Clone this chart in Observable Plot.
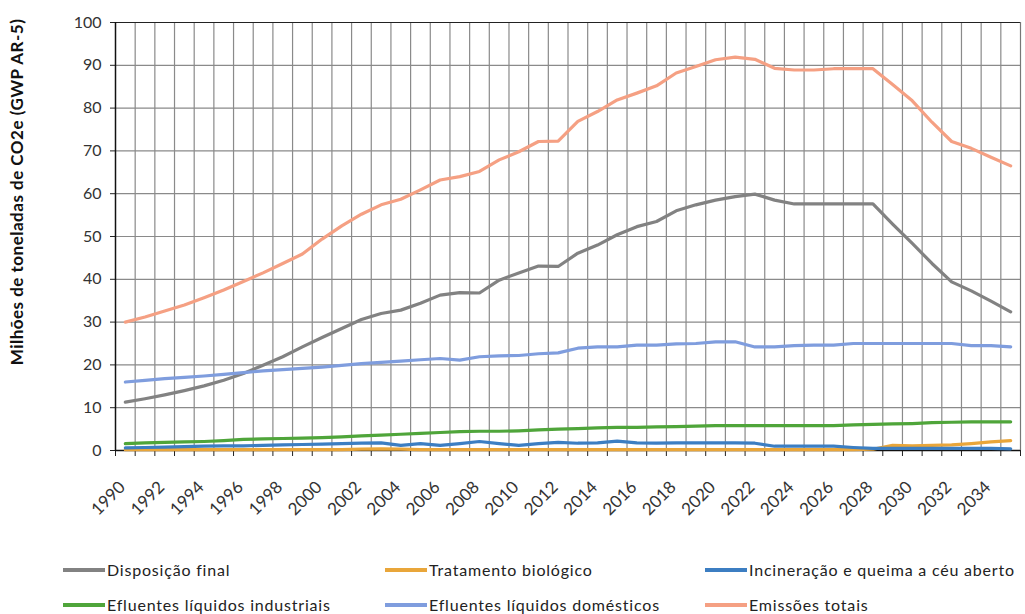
<!DOCTYPE html>
<html>
<head>
<meta charset="utf-8">
<script src="https://cdn.jsdelivr.net/npm/d3@7"></script>
<script src="https://cdn.jsdelivr.net/npm/@observablehq/plot@0.6"></script>
<style>
  html, body { margin: 0; padding: 0; background: #fff; }
  #wrap { position: relative; width: 1025px; height: 614px; overflow: hidden; font-family: Lato, "Open Sans", sans-serif; }
  #ytitle { position: absolute; left: 16px; top: 192px; transform: translate(-50%, -50%) rotate(-90deg); white-space: nowrap;
            font-weight: bold; font-size: 17px; color: #111; letter-spacing: 0.5px; }
  .leg { position: absolute; display: flex; align-items: center; font-size: 16px; letter-spacing: 0.8px; color: #222; white-space: nowrap; line-height: 20px; }
  .leg span.sw { display: inline-block; width: 42px; height: 3.5px; margin-right: 2px; }
</style>
</head>
<body>
<div id="wrap">
  <div id="chart"></div>
  <div id="ytitle">Milhões de toneladas de CO2e (GWP AR-5)</div>
  <div id="legend"></div>
</div>
<script>
const years = d3.range(1990, 2036);
const seriesNames = [
  "Disposição final",
  "Tratamento biológico",
  "Incineração e queima a céu aberto",
  "Efluentes líquidos industriais",
  "Efluentes líquidos domésticos",
  "Emissões totais"
];
const seriesColors = ["#828282", "#E9A63A", "#3C7EC2", "#4FA53A", "#7F9DDE", "#F5A083"];

const disposicaoFinal = [
  11.3, 12.1, 13.0, 14.0, 15.1, 16.4, 18.0, 19.9, 21.9, 24.2,
  26.4, 28.5, 30.6, 32.0, 32.8, 34.4, 36.3, 36.9, 36.8, 39.8,
  41.5, 43.1, 43.0, 46.1, 48.0, 50.4, 52.3, 53.5, 56.0, 57.4,
  58.5, 59.3, 59.9, 58.5, 57.6, 57.6, 57.6, 57.6, 57.6, 52.9,
  48.4, 43.7, 39.4, 37.3, 34.9, 32.4
];
const tratamentoBiologico = [
  0.2, 0.2, 0.2, 0.2, 0.2, 0.2, 0.2, 0.2, 0.2, 0.2,
  0.2, 0.2, 0.3, 0.4, 0.3, 0.2, 0.2, 0.2, 0.2, 0.2,
  0.2, 0.2, 0.2, 0.2, 0.2, 0.2, 0.2, 0.2, 0.2, 0.2,
  0.2, 0.2, 0.2, 0.2, 0.2, 0.2, 0.2, 0.2, 0.3, 1.2,
  1.1, 1.2, 1.3, 1.6, 2.0, 2.3
];
const incineracao = [
  0.6, 0.7, 0.8, 0.9, 1.0, 1.1, 1.1, 1.2, 1.3, 1.4,
  1.5, 1.6, 1.7, 1.8, 1.2, 1.6, 1.2, 1.6, 2.1, 1.6,
  1.2, 1.6, 1.9, 1.7, 1.8, 2.2, 1.8, 1.7, 1.8, 1.8,
  1.8, 1.8, 1.7, 1.0, 1.0, 1.0, 1.0, 0.7, 0.5, 0.5,
  0.5, 0.5, 0.5, 0.5, 0.5, 0.4
];
const efluentesIndustriais = [
  1.6, 1.8, 1.9, 2.0, 2.1, 2.3, 2.6, 2.7, 2.8, 2.9,
  3.0, 3.2, 3.4, 3.6, 3.8, 4.0, 4.2, 4.4, 4.5, 4.5,
  4.6, 4.8, 5.0, 5.1, 5.3, 5.4, 5.4, 5.5, 5.6, 5.7,
  5.8, 5.8, 5.8, 5.8, 5.8, 5.8, 5.8, 6.0, 6.1, 6.2,
  6.3, 6.5, 6.6, 6.7, 6.7, 6.7
];
const efluentesDomesticos = [
  16.0, 16.4, 16.8, 17.1, 17.4, 17.8, 18.2, 18.6, 18.9, 19.2,
  19.5, 19.9, 20.3, 20.6, 20.9, 21.2, 21.5, 21.1, 21.9, 22.1,
  22.2, 22.6, 22.8, 23.9, 24.2, 24.2, 24.6, 24.6, 24.9, 25.0,
  25.4, 25.4, 24.2, 24.2, 24.5, 24.6, 24.6, 25.0, 25.0, 25.0,
  25.0, 25.0, 25.0, 24.5, 24.5, 24.2
];
const emissoesTotais = [
  30.0, 31.2, 32.6, 34.0, 35.7, 37.5, 39.5, 41.5, 43.7, 45.9,
  49.4, 52.5, 55.2, 57.4, 58.7, 60.9, 63.2, 64.0, 65.2, 67.9,
  69.8, 72.2, 72.3, 76.9, 79.2, 81.9, 83.5, 85.2, 88.2, 89.7,
  91.3, 91.9, 91.4, 89.3, 88.9, 88.9, 89.2, 89.2, 89.2, 85.5,
  81.7, 76.7, 72.2, 70.6, 68.5, 66.5
];
const seriesValues = [disposicaoFinal, tratamentoBiologico, incineracao, efluentesIndustriais, efluentesDomesticos, emissoesTotais];
const yTicks = d3.range(0, 101, 10);
const xLabelYears = d3.range(1990, 2035, 2);

const rows = [];
seriesNames.forEach((name, i) => {
  years.forEach((yr, j) => rows.push({series: name, year: yr, value: seriesValues[i][j]}));
});

const boundaries = d3.range(1989.5, 2036, 1);
const innerBoundaries = boundaries.slice(1, -1);

const chart = Plot.plot({
  width: 1025,
  height: 520,
  marginLeft: 115,
  marginRight: 5,
  marginTop: 22,
  marginBottom: 70,
  style: {fontFamily: "Lato, 'Open Sans', sans-serif", fontSize: "16px", color: "#333", background: "#fff"},
  x: {domain: [1989.5, 2035.5], axis: null},
  y: {domain: [0, 100], axis: null},
  color: {domain: seriesNames, range: seriesColors},
  marks: [
    Plot.ruleX(innerBoundaries, {x: d => d, y1: 0, y2: 100, stroke: "#8a8a8a", strokeWidth: 1.2}),
    Plot.ruleY(yTicks.slice(1), {y: d => d, stroke: "#8a8a8a", strokeWidth: 1.2}),
    Plot.ruleY([100], {stroke: "#222", strokeWidth: 1.2}),
    Plot.ruleX([2035.5], {y1: 0, y2: 100, stroke: "#777", strokeWidth: 1.2}),
    Plot.axisY({ticks: yTicks, tickSize: 5, tickPadding: 9, stroke: "#222", fill: "#333", fontSize: 16, label: null}),
    Plot.axisX({ticks: boundaries, tickSize: 6, tickFormat: () => "", stroke: "#222", label: null}),
    Plot.axisX({ticks: xLabelYears, tickSize: 0, tickPadding: 22, tickRotate: -45, tickFormat: d => String(d), fill: "#333", fontSize: 17, dy: 12, dx: -3, label: null}),
    Plot.ruleY([0], {stroke: "#111", strokeWidth: 1.5}),
    Plot.ruleX([1989.5], {y1: 0, y2: 100, stroke: "#111", strokeWidth: 1.5}),
    Plot.line(rows, {x: "year", y: "value", z: "series", stroke: "series", strokeWidth: 3.2, strokeLinejoin: "round", strokeLinecap: "round"})
  ]
});
document.getElementById("chart").appendChild(chart);

// legend
const legPos = [[63, 570], [385, 570], [705, 570], [63, 605], [385, 605], [705, 605]];
const legend = document.getElementById("legend");
seriesNames.forEach((name, i) => {
  const d = document.createElement("div");
  d.className = "leg";
  d.style.left = legPos[i][0] + "px";
  d.style.top = (legPos[i][1] - 10) + "px";
  d.innerHTML = `<span class="sw" style="background:${seriesColors[i]}"></span>${name}`;
  legend.appendChild(d);
});
</script>
</body>
</html>
